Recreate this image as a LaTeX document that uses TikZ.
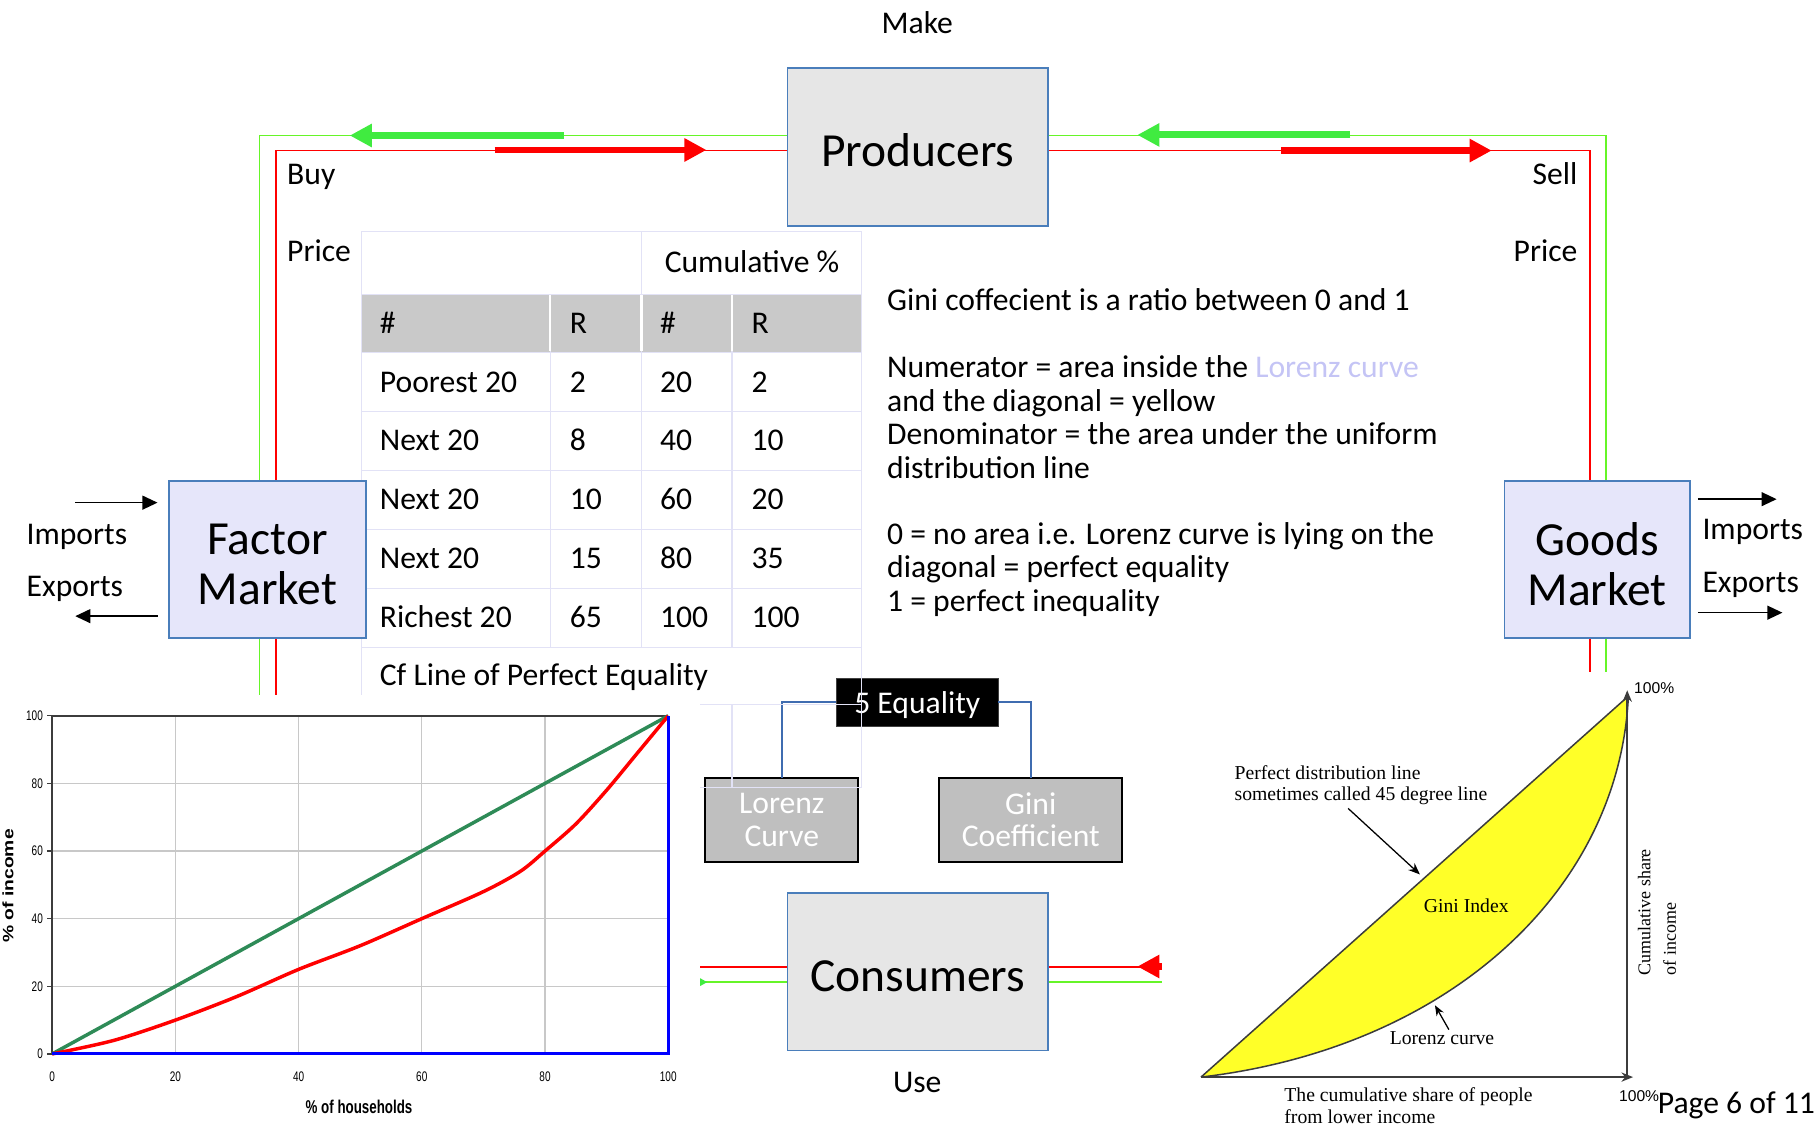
\documentclass[tikz,border=0pt]{standalone}
\usepackage{fontspec}
\setmainfont{Carlito}
\newfontfamily\imgserif{Liberation Serif}
\newfontfamily\imgsans{Liberation Sans}
\newfontfamily\chartnarrow[FakeStretch=0.72]{Liberation Sans}
\usetikzlibrary{arrows.meta}
\pgfdeclarelayer{flow}
\pgfdeclarelayer{front}
\pgfsetlayers{flow,main,front}

\definecolor{boxblue}{RGB}{74,126,187}
\definecolor{boxgray}{RGB}{230,230,230}
\definecolor{boxlav}{RGB}{230,230,250}
\definecolor{flowgreen}{RGB}{102,245,40}
\definecolor{arrgreen}{RGB}{64,235,64}
\definecolor{tablegrid}{RGB}{226,226,246}
\definecolor{tablehead}{RGB}{201,201,201}
\definecolor{treeblue}{RGB}{63,108,176}
\definecolor{subgray}{RGB}{191,191,191}
\definecolor{lorlav}{RGB}{196,196,245}
\definecolor{equalgreen}{RGB}{46,139,87}
\definecolor{ginifill}{RGB}{255,255,40}
\definecolor{chartgrid}{RGB}{200,200,200}
\definecolor{inkgray}{RGB}{60,60,60}

\begin{document}
\begin{tikzpicture}[x=1pt,y=-1pt,
  every node/.style={inner sep=0pt, outer sep=0pt},
  lbl/.style={font=\fontsize{27.3}{29}\selectfont},
  sector/.style={draw=boxblue, line width=1.6pt, fill=boxgray, minimum width=225pt,
    minimum height=136pt, font=\fontsize{41}{44}\selectfont, text height=34pt, text depth=0pt},
  market/.style={draw=boxblue, line width=1.6pt, fill=boxlav, minimum height=136pt},
  markettext/.style={align=center, font=\fontsize{41}{43.2}\selectfont},
  topic/.style={draw=black, line width=2pt, fill=subgray, minimum height=72pt,
    align=center, text=white, font=\fontsize{27.3}{28}\selectfont},
  gline/.style={draw=flowgreen, line width=1.6pt},
  rline/.style={draw=red, line width=1.6pt},
  gthick/.style={draw=arrgreen, line width=6pt, -{Triangle[length=19pt,width=19pt]}},
  rthick/.style={draw=red, line width=6pt, -{Triangle[length=19pt,width=19pt]}},
  trade/.style={draw=black, line width=1.2pt, -{Triangle[length=13pt,width=12pt]}},
  tabline/.style={draw=tablegrid, line width=1pt},
  cell/.style={lbl, anchor=base west},
  ticklbl/.style={font=\chartnarrow\fontsize{12}{14}\selectfont},
  axisdark/.style={draw=inkgray, line width=1.4pt},
  imgtext/.style={font=\imgserif\fontsize{17}{19}\selectfont, anchor=base west},
  imgline/.style={draw=inkgray, line width=1.3pt},
]
\useasboundingbox (0,0) rectangle (1568,977);

% ---------- Equality topic tree ----------
\node[topic, minimum width=132pt] (lor) at (675,708) {Lorenz\\Curve};
\node[topic, minimum width=158pt] (gini) at (890,708) {Gini\\Coefficient};
\node[lbl, fill=black, draw=black!75, line width=1pt, minimum width=140pt, minimum height=41pt,
      text=white, text height=19pt, text depth=0pt] (eq) at (792,606.5) {5 Equality};
\draw[treeblue, line width=1.8pt] (eq.west) -| (lor.north);
\draw[treeblue, line width=1.8pt] (eq.east) -| (gini.north);

% ---------- income table ----------
\fill[tablehead] (312,254) rectangle (744,304);
\draw[tabline] (312,200) rectangle (744,680);
\foreach \r in {254,304,355,406,457,508,559,608} \draw[tabline] (312,\r) -- (744,\r);
\draw[tabline] (554,200) -- (554,559);
\foreach \c in {475,632} \draw[tabline] (\c,254) -- (\c,559);
\draw[tabline] (632,608) -- (632,680);
\foreach \c in {475,554,632} \draw[white, line width=2pt] (\c,255) -- (\c,303);

\node[cell] (hcum) at (574,235) {Cumulative \%};
\node[cell] (h1) at (328,288) {\#};
\node[cell] (h2) at (492,288) {R};
\node[cell] (h3) at (570,288) {\#};
\node[cell] (h4) at (649,288) {R};
\node[cell] (a1) at (328,339) {Poorest 20};
\node[cell] (a2) at (492,339) {2};
\node[cell] (a3) at (570,339) {20};
\node[cell] (a4) at (649,339) {2};
\node[cell] (b1) at (328,389) {Next 20};
\node[cell] (b2) at (492,389) {8};
\node[cell] (b3) at (570,389) {40};
\node[cell] (b4) at (649,389) {10};
\node[cell] (c1) at (328,440) {Next 20};
\node[cell] (c2) at (492,440) {10};
\node[cell] (c3) at (570,440) {60};
\node[cell] (c4) at (649,440) {20};
\node[cell] (d1) at (328,491) {Next 20};
\node[cell] (d2) at (492,491) {15};
\node[cell] (d3) at (570,491) {80};
\node[cell] (d4) at (649,491) {35};
\node[cell] (e1) at (328,542) {Richest 20};
\node[cell] (e2) at (492,542) {65};
\node[cell] (e3) at (570,542) {100};
\node[cell] (e4) at (649,542) {100};
\node[cell] (cf) at (328,592) {Cf Line of Perfect Equality};

% ---------- circular flow boxes ----------
\node[sector] (prod) at (792.5,127) {Producers};
\node[sector] (cons) at (792.5,839) {Consumers};
\node[market, minimum width=170pt] (fm) at (231,483) {};
\node[markettext] (fmtext) at ([yshift=-4.5pt]fm.center) {Factor\\Market};
\node[market, minimum width=160pt] (gm) at (1379,483) {};
\node[markettext] (gmtext) at ([yshift=-4.5pt]gm.center) {Goods\\Market};

\node[lbl, anchor=base] (make) at (792,29) {Make};
\node[lbl, anchor=base] (use) at (792,943) {Use};
\node[lbl, anchor=base west] (buy) at (248,159) {Buy};
\node[lbl, anchor=base west] (bprice) at (248,226) {Price};
\node[lbl, anchor=base east] (sell) at (1362,159) {Sell};
\node[lbl, anchor=base east] (sprice) at (1362,226) {Price};

% trade arrows
\node[lbl, anchor=base west] (fimp) at (23,470) {Imports};
\node[lbl, anchor=base west] (fexp) at (23,515) {Exports};
\node[lbl, anchor=base west] (gimp) at (1470,466) {Imports};
\node[lbl, anchor=base west] (gexp) at (1470,512) {Exports};
\coordinate (fin) at (65,434);
\coordinate (fout) at (65,532);
\coordinate (gin) at (1534,431);
\coordinate (gout) at (1539,529);
\draw[trade] (fin) -- ([xshift=-10pt]fin -| fm.west);
\draw[trade] ([xshift=-10pt]fout -| fm.west) -- (fout);
\draw[trade] ([xshift=7pt]gin -| gm.east) -- (gin);
\draw[trade] ([xshift=7pt]gout -| gm.east) -- (gout);

% ---------- notes ----------
\node[lbl, anchor=base west] (n1) at (766,268) {Gini coffecient is a ratio between 0 and 1};
\node[lbl, anchor=base west] (n2) at (766,326) {Numerator = area inside the \textcolor{lorlav}{Lorenz curve}};
\node[lbl, anchor=base west] (n3) at (766,355) {and the diagonal = yellow};
\node[lbl, anchor=base west] (n4) at (766,384) {Denominator = the area under the uniform};
\node[lbl, anchor=base west] (n5) at (766,413) {distribution line};
\node[lbl, anchor=base west] (n6) at (766,470) {0 = no area i.e. Lorenz curve is lying on the};
\node[lbl, anchor=base west] (n7) at (766,499) {diagonal = perfect equality};
\node[lbl, anchor=base west] (n8) at (766,528) {1 = perfect inequality};

% ---------- money and goods loops ----------
\coordinate (gTL) at (224,117);
\coordinate (gBL) at (224,848);
\coordinate (rTL) at (238,130);
\coordinate (rBL) at (238,835);
\coordinate (gTR) at (1387,117);
\coordinate (gBR) at (1387,848);
\coordinate (rTR) at (1373,130);
\coordinate (rBR) at (1373,835);
\begin{pgfonlayer}{flow}
  \draw[gline] ([yshift=10pt]prod.west) -- (gTL) -- (gBL) -- ([yshift=-9pt]cons.west);
  \draw[rline] ([yshift=-3pt]prod.west) -- (rTL) -- (rBL) -- ([yshift=4pt]cons.west);
  \draw[gline] ([yshift=10pt]prod.east) -- (gTR) -- (gBR) -- ([yshift=-9pt]cons.east);
  \draw[rline] ([yshift=-3pt]prod.east) -- (rTR) -- (rBR) -- ([yshift=4pt]cons.east);
  \draw[gthick] (487,117) -- (302,117);
  \draw[rthick] (427,129.5) -- (610,129.5);
  \draw[gthick] (1166,116.5) -- (982,116.5);
  \draw[rthick] (1106,130) -- (1288,130);
  \draw[gthick] (560,848) -- (611,848);
  \draw[rthick] (1030,834.5) -- (982,834.5);
\end{pgfonlayer}

\begin{pgfonlayer}{front}
% ---------- household income chart ----------
\fill[white] (0,600) rectangle (604,977);
\begin{scope}[shift={(45,910)}, x=5.32pt, y=2.92pt]
  \foreach \v in {20,40,60,80} {
    \draw[chartgrid, line width=1pt] (\v,0) -- (\v,100);
    \draw[chartgrid, line width=1pt] (0,\v) -- (100,\v);
  }
  \draw[axisdark] (0,100) -- (100,100);
  \draw[axisdark] (0,0) -- (0,100);
  \foreach \v in {0,20,40,60,80,100} {
    \draw[axisdark, line width=1pt] (-0.8,\v) -- (0,\v);
    \node[ticklbl, anchor=east] (ty\v) at (-1.5,\v) {\v};
    \node[ticklbl] (tx\v) at (\v,-6.8) {\v};
  }
  \draw[equalgreen, line width=3pt] (0,0) -- (100,100);
  \draw[red, line width=3pt, line join=round] plot[smooth, tension=0.5] coordinates
    {(0,0) (10,4) (20,10) (30,17) (40,25) (50,32) (60,40) (70,48) (76,54) (80,60) (85,68) (90,78) (95,89) (100,100)};
  \draw[blue, line width=2.6pt] (0,0) -- (100,0) -- (100,100);
\end{scope}
\node[font=\chartnarrow\bfseries\fontsize{16}{18}\selectfont] (xtitle) at (310,956) {\% of households};
\node[rotate=90, font=\imgsans\bfseries\fontsize{13}{15}\selectfont] (ytitle) at (7,765) {\scalebox{1.28}[1]{\% of income}};

% ---------- Lorenz curve sketch ----------
\fill[white] (1003,580) rectangle (1568,977);
\coordinate (lo) at (1037,930);
\coordinate (lt) at (1406,601);
\fill[ginifill] (lo) -- (lt) .. controls (1398,770) and (1250,905) .. (lo) -- cycle;
\draw[imgline] (lo) -- (lt);
\draw[imgline] (lo) .. controls (1250,905) and (1398,770) .. (lt);
\draw[imgline, -{Stealth[length=10pt,width=8pt]}] (lo) -- (1410,930);
\draw[imgline, -{Stealth[length=10pt,width=8pt]}] (1405,931) -- (1405,596);
\node[imgtext] (pd1) at (1066,673) {Perfect distribution line};
\node[imgtext] (pd2) at (1066,691) {sometimes called 45 degree line};
\coordinate (pdtip) at (1226,755);
\draw[draw=black, line width=1.1pt, -{Stealth[length=10pt,width=8pt]}] (1164,698) -- (pdtip);
\node[imgtext, anchor=base] (gidx) at (1266,788) {Gini Index};
\node[imgtext] (lcl) at (1200,902) {Lorenz curve};
\coordinate (lctip) at (1239,868);
\draw[draw=black, line width=1.1pt, -{Stealth[length=9pt,width=7pt]}] (1251,889) -- (lctip);
\node[imgtext] (xs1) at (1109,951) {The cumulative share of people};
\node[imgtext] (xs2) at (1109,970) {from lower income};
\node[imgtext, font=\imgserif\fontsize{15.5}{17}\selectfont, rotate=90] (ys1) at (1425,842) {Cumulative share};
\node[imgtext, font=\imgserif\fontsize{15.5}{17}\selectfont, rotate=90] (ys2) at (1447,842) {of income};
\node[font=\imgsans\fontsize{13.5}{15}\selectfont, anchor=base west] (p100a) at (1398,951) {100\%};
\node[font=\imgsans\fontsize{13.5}{15}\selectfont, anchor=base west] (p100b) at (1411,599) {100\%};

\node[lbl, anchor=base east] (page) at (1567,961) {Page 6 of 11};
\end{pgfonlayer}
\end{tikzpicture}
\end{document}
